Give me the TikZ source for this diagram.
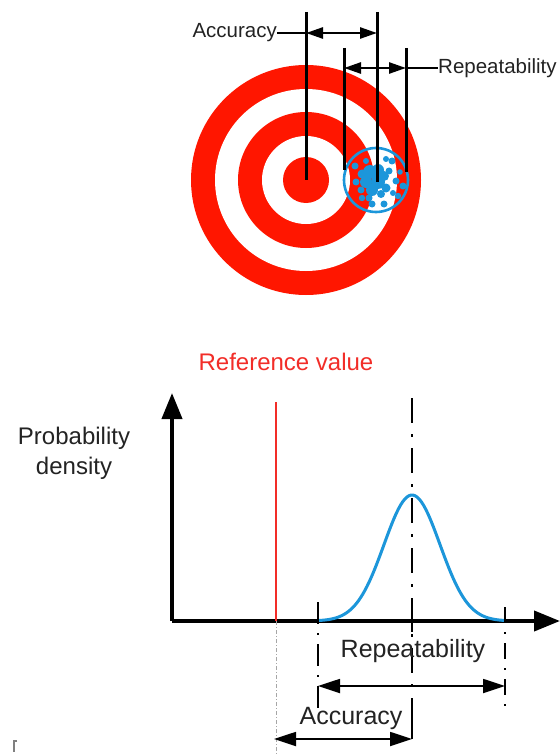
\documentclass[tikz,border=0pt]{standalone}
\usepackage{fontspec}
\setmainfont{Liberation Sans}
\usetikzlibrary{arrows.meta}
\definecolor{tred}{RGB}{255,22,0}
\definecolor{tblue}{RGB}{28,150,218}
\definecolor{txt}{RGB}{35,35,35}
\definecolor{refred}{RGB}{242,45,40}
\tikzset{
  vline/.style={line width=3pt, black},
  toparrow/.style={line width=2.6pt, {Triangle[length=17pt,width=11pt]}-{Triangle[length=17pt,width=11pt]}},
  lead/.style={line width=2.4pt},
  toplabel/.style={font=\fontsize{20.5}{24}\selectfont, text=txt, inner sep=0pt},
  biglabel/.style={font=\fontsize{25}{30}\selectfont, text=txt, inner sep=0pt},
  axis/.style={line width=4pt, -{Triangle[length=26pt,width=20pt]}},
  dimarrow/.style={line width=1.8pt, {Triangle[length=22pt,width=14pt]}-{Triangle[length=22pt,width=14pt]}},
  dashdotline/.style={line width=2.6pt, dash pattern=on 25pt off 11pt on 3pt off 11pt},
}
\begin{document}
\begin{tikzpicture}[x=1pt,y=-1pt]
\useasboundingbox (0,0) rectangle (559,754);
\fill[white] (0,0) rectangle (559,754);

% ---------------- target ----------------
\coordinate (tc) at (306,180);
\fill[tred] (tc) circle[radius=115pt];
\fill[white] (tc) circle[radius=91pt];
\fill[tred] (tc) circle[radius=68pt];
\fill[white] (tc) circle[radius=44pt];
\fill[tred] (tc) circle[radius=23pt];

% shot group
\coordinate (bc) at (376,180);
\begin{scope}
\clip (bc) circle[radius=31pt];
\foreach \p/\r in {
  {(370,172)}/7, {(378,170)}/6, {(366,182)}/6, {(378,182)}/7, {(372,190)}/6,
  {(384,176)}/5, {(362,174)}/4.5, {(386,188)}/4.5, {(369,198)}/3.5, {(381,194)}/4,
  {(355,166)}/3.5, {(356,182)}/3.5, {(361,190)}/3.5, {(362,198)}/3.2, {(372,204)}/3.5,
  {(384,204)}/3.5, {(392,161)}/3.5, {(389,171)}/3.5, {(396,181)}/3.5, {(403,186)}/3.5,
  {(398,196)}/3.2, {(386,159)}/3, {(366,161)}/3, {(393,193)}/3, {(400,172)}/2.8}
  \fill[tblue] \p circle[radius=\r pt];
\end{scope}
\draw[tblue, line width=2.6pt] (bc) circle[radius=32pt];

% vertical reference lines
\coordinate (v1t) at (306,12);  \coordinate (v1b) at (306,180);
\coordinate (v2t) at (344,48);  \coordinate (v2b) at (344,170);
\coordinate (v3t) at (377,12);  \coordinate (v3b) at (377,182);
\coordinate (v4t) at (406,48);  \coordinate (v4b) at (406,172);
\draw[vline] (v1t) -- (v1b);
\draw[vline] (v2t) -- (v2b);
\draw[vline] (v3t) -- (v3b);
\draw[vline] (v4t) -- (v4b);

% top labels and arrows
\node[toplabel, anchor=east] (accT) at (277,33) {Accuracy};
\coordinate (a1) at (306,33); \coordinate (a2) at (377,33);
\draw[lead] (accT.east) -- (a1);
\draw[toparrow] (a1) -- (a2);

\node[toplabel, anchor=west] (repT) at (438,68) {Repeatability};
\coordinate (r1) at (344,68); \coordinate (r2) at (406,68);
\draw[toparrow] (r1) -- (r2);
\draw[lead] (r2) -- (repT.west);

% ---------------- density plot ----------------
\node[font=\fontsize{24}{30}\selectfont, text=refred, inner sep=0pt] (refv) at (286,362) {Reference value};
\node[font=\fontsize{24}{30}\selectfont, text=txt, align=center, inner sep=0pt] (pd) at (74,453) {Probability\\density};

\coordinate (origin) at (172,621);
\coordinate (ytip) at (172,393);
\coordinate (xtip) at (560,621);
\draw[axis] (origin) -- (ytip);
\draw[axis] (origin) -- (xtip);

% reference line
\coordinate (rt) at (276,402);
\coordinate (rb) at (276,621);
\coordinate (rbb) at (276,754);
\draw[refred, line width=1.5pt] (rt) -- (rb);
\draw[gray!70, line width=0.8pt, dash pattern=on 4pt off 2pt on 1pt off 2pt] (rb) -- (rbb);

% gaussian
\draw[tblue, line width=3pt] plot[domain=319:505, samples=90]
  (\x, {621-126*exp(-((\x-412)*(\x-412))/(2*28*28))});

% dash-dot guide lines
\coordinate (mt) at (412,398); \coordinate (mb) at (412,739);
\draw[dashdotline] (mt) -- (mb);
\draw[line width=2.6pt] (412,706) -- (mb);
\draw[line width=2.6pt] (412,612) -- (412,632);
\coordinate (lt) at (318,602); \coordinate (lb) at (318,714);
\coordinate (rgt) at (505,607); \coordinate (rgb) at (505,714);
\draw[line width=2pt, dash pattern=on 22pt off 9pt on 2pt off 9pt] (lt) -- (lb);
\draw[line width=2pt, dash pattern=on 16pt off 9pt on 2pt off 9pt] (rgt) -- (rgb);

% dimension arrows
\node[biglabel] (repB) at (413,651) {Repeatability};
\coordinate (ra) at (318,686); \coordinate (rb2) at (505,686);
\draw[dimarrow] (ra) -- (rb2);

\node[biglabel] (accB) at (351,718) {Accuracy};
\coordinate (aa) at (274,739); \coordinate (ab) at (412,739);
\draw[dimarrow] (aa) -- (ab);

% small artifact mark
\draw[gray, line width=1.2pt] (17,741) -- (14,741) -- (14,752);
\end{tikzpicture}
\end{document}
